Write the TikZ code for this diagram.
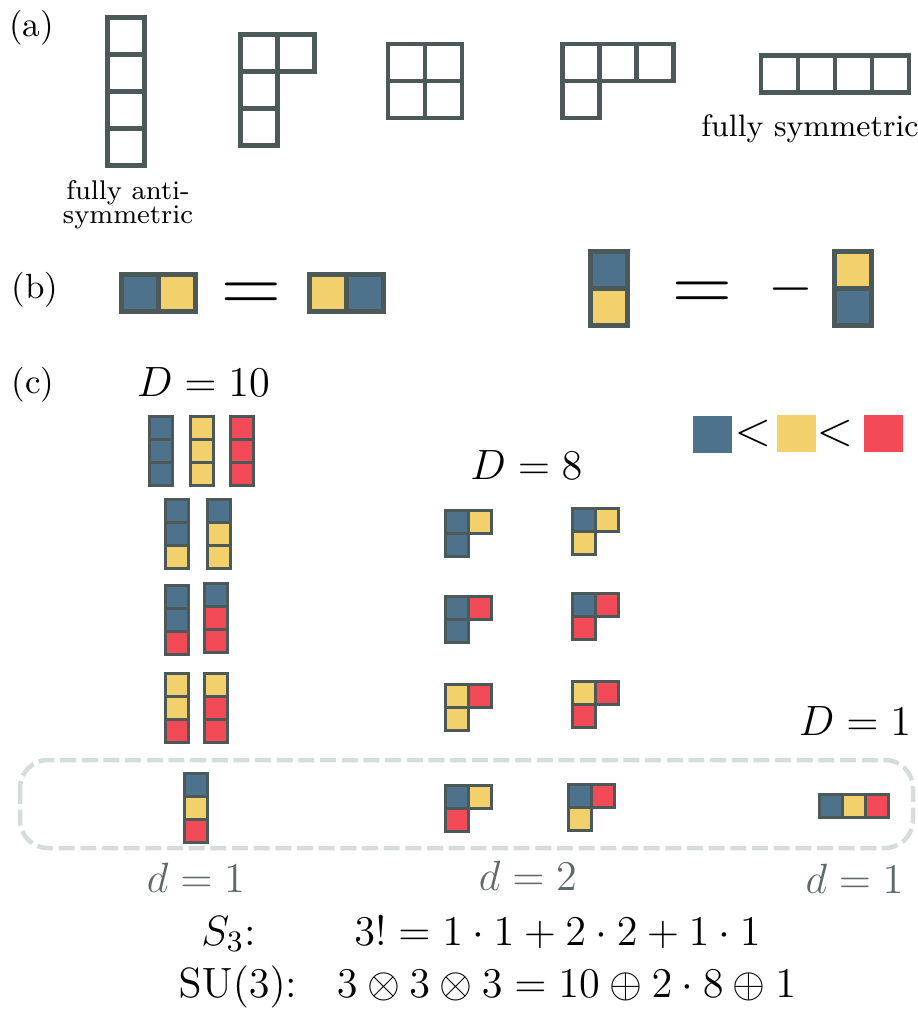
\RequirePackage{fix-cm}
\documentclass[tikz,border=0pt]{standalone}
\definecolor{ystroke}{HTML}{4B5958}
\definecolor{yblue}{HTML}{4E728C}
\definecolor{yyel}{HTML}{F2D06B}
\definecolor{yred}{HTML}{F24B57}
\definecolor{dgray}{HTML}{D5DDDB}
\definecolor{lblgray}{HTML}{5F6969}
\tikzset{
  cellA/.style={draw=ystroke, line width=1.38pt},
  cellC/.style={draw=ystroke, line width=0.9pt},
  lbl/.style={anchor=base, inner sep=0pt, font=\fontsize{10.5}{12}\selectfont},
  mth/.style={anchor=base, inner sep=0pt, font=\fontsize{12.7}{15}\selectfont},
  dlbl/.style={mth, text=lblgray},
  bigeq/.style={anchor=base, inner sep=0pt, font=\fontsize{24.88}{28}\selectfont},
  lessthan/.style={anchor=base, inner sep=0pt, font=\fontsize{14.4}{17}\selectfont},
}
% style, x, y, cell size, list of col/row/fill
\newcommand\ytab[5]{%
  \foreach \c/\r/\f in {#5}{\path[#1, fill=\f] ({#2+\c*#4},{#3+\r*#4}) rectangle ++(#4,#4);}}
\begin{document}
\begin{tikzpicture}[x=0.3pt,y=-0.3pt]
\useasboundingbox (0,0) rectangle (918,1010);
% ---------- (a)
\node[lbl] (la) at (31.5,37) {(a)};
\ytab{cellA}{107.3}{17.3}{37}{0/0/none,0/1/none,0/2/none,0/3/none}
\ytab{cellA}{240.3}{34.3}{37}{0/0/none,1/0/none,0/1/none,0/2/none}
\ytab{cellA}{387.8}{44}{37}{0/0/none,1/0/none,0/1/none,1/1/none}
\ytab{cellA}{562.3}{44}{37}{0/0/none,1/0/none,2/0/none,0/1/none}
\ytab{cellA}{760.9}{55.6}{37}{0/0/none,1/0/none,2/0/none,3/0/none}
\node[anchor=north, align=center, inner sep=0pt, font=\fontsize{8.1}{7.35}\selectfont] (anti) at (128,179.5) {fully anti-\\symmetric};
\node[anchor=base, inner sep=0pt, font=\fontsize{9.3}{11}\selectfont] (sym) at (810,137) {fully symmetric};
% ---------- (b)
\node[lbl] (lb) at (35,298) {(b)};
\ytab{cellA}{121.3}{274.3}{37}{0/0/yblue,1/0/yyel}
\node[bigeq] (eq1) at (251.5,312.5) {$=$};
\ytab{cellA}{309.3}{274.3}{37}{0/0/yyel,1/0/yblue}
\ytab{cellA}{590.3}{251.3}{37}{0/0/yblue,0/1/yyel}
\node[bigeq] (eq2) at (702.5,311.5) {$=$};
\node[anchor=base, inner sep=0pt, font=\fontsize{17.28}{19}\selectfont] (minus) at (790.5,303) {$-$};
\ytab{cellA}{834.3}{251.3}{37}{0/0/yyel,0/1/yblue}
% ---------- (c)
\node[lbl] (lc) at (33,393) {(c)};
\node[mth] (D10) at (203.5,396) {$D=10$};
\node[mth] (D8) at (526.5,479) {$D=8$};
\node[mth] (D1) at (855,735) {$D=1$};
% legend
\fill[yblue] (693,416) rectangle (732,453);
\node[lessthan] (lt1) at (753,445) {$<$};
\fill[yyel] (777,415) rectangle (816,452);
\node[lessthan] (lt2) at (835,445) {$<$};
\fill[yred] (864,415) rectangle (903,452);
% D=10 columns
\ytab{cellC}{149}{416.5}{23}{0/0/yblue,0/1/yblue,0/2/yblue}
\ytab{cellC}{190.5}{416.5}{23}{0/0/yyel,0/1/yyel,0/2/yyel}
\ytab{cellC}{230.5}{416.5}{23}{0/0/yred,0/1/yred,0/2/yred}
\ytab{cellC}{165.5}{499.5}{23}{0/0/yblue,0/1/yblue,0/2/yyel}
\ytab{cellC}{207.5}{499.5}{23}{0/0/yblue,0/1/yyel,0/2/yyel}
\ytab{cellC}{165.5}{585.5}{23}{0/0/yblue,0/1/yblue,0/2/yred}
\ytab{cellC}{204.5}{583.5}{23}{0/0/yblue,0/1/yred,0/2/yred}
\ytab{cellC}{165.5}{673.5}{23}{0/0/yyel,0/1/yyel,0/2/yred}
\ytab{cellC}{204.5}{673.5}{23}{0/0/yyel,0/1/yred,0/2/yred}
% D=8 hooks
\ytab{cellC}{445.5}{510.5}{23}{0/0/yblue,1/0/yyel,0/1/yblue}
\ytab{cellC}{572.5}{508.5}{23}{0/0/yblue,1/0/yyel,0/1/yyel}
\ytab{cellC}{445.5}{596.5}{23}{0/0/yblue,1/0/yred,0/1/yblue}
\ytab{cellC}{572.5}{593.5}{23}{0/0/yblue,1/0/yred,0/1/yred}
\ytab{cellC}{445.5}{684.5}{23}{0/0/yyel,1/0/yred,0/1/yyel}
\ytab{cellC}{572.5}{681.5}{23}{0/0/yyel,1/0/yred,0/1/yred}
% dashed frame
\draw[dgray, line width=1.35pt, dash pattern=on 4.8pt off 1.7pt, rounded corners=8.4pt] (20,760) rectangle (913,848);
\ytab{cellC}{184.5}{773.5}{23}{0/0/yblue,0/1/yyel,0/2/yred}
\ytab{cellC}{445.5}{785.5}{23}{0/0/yblue,1/0/yyel,0/1/yred}
\ytab{cellC}{568.5}{784.5}{23}{0/0/yblue,1/0/yred,0/1/yyel}
\ytab{cellC}{819.5}{794.5}{23}{0/0/yblue,1/0/yyel,2/0/yred}
\node[dlbl] (d1) at (196,892) {$d=1$};
\node[dlbl] (d2) at (528,890) {$d=2$};
\node[dlbl] (d3) at (854.5,893) {$d=1$};
% equations
\node[mth] (s3) at (228.5,945) {$S_3$:};
\node[mth] (s3eq) at (557.5,945) {$3! = 1\cdot 1 + 2\cdot 2 + 1\cdot 1$};
\node[mth] (su3) at (238,997) {$\mathrm{SU}(3)$:};
\node[mth] (su3eq) at (566.5,997) {$3\otimes 3\otimes 3 = 10\oplus 2\cdot 8\oplus 1$};
\end{tikzpicture}
\end{document}
